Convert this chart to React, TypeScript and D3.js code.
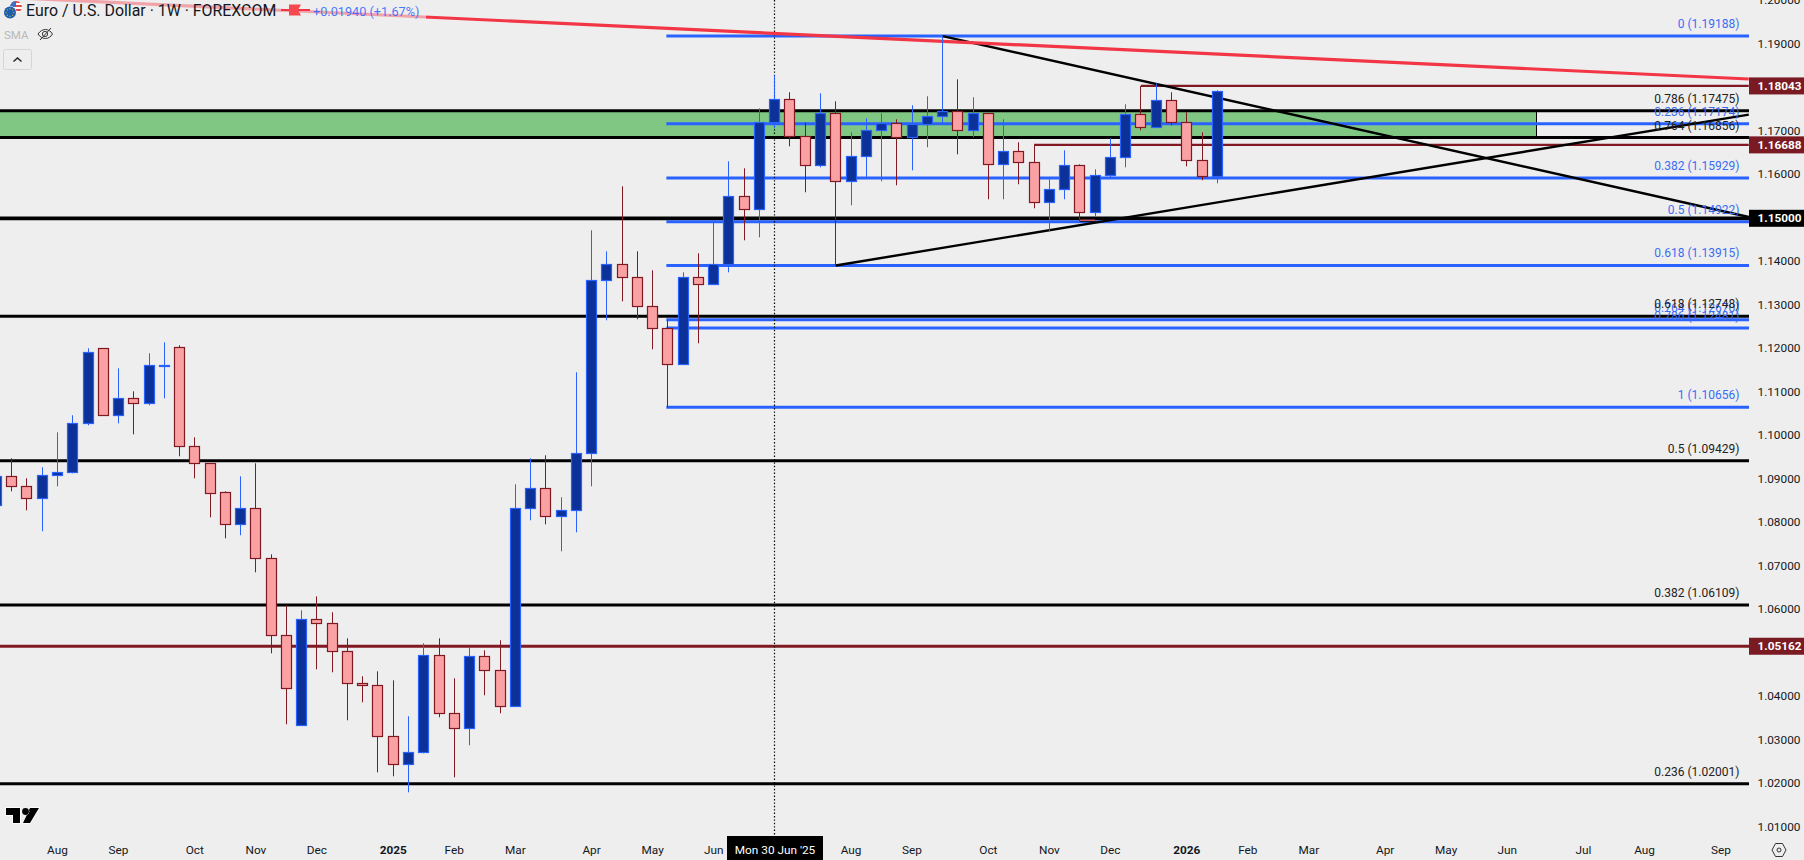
import React from "react";
import * as d3 from "d3";

const WIDTH = 1804;
const HEIGHT = 860;
const PLOT_RIGHT = 1749;

// Weekly candles, first entry is the week of 8 Jul 2024 (index -1)
const opens = [1.08402,1.09069,1.08839,1.08563,1.09092,1.09161,1.10287,1.12012,1.10471,1.10862,1.10747,1.11612,1.12034,1.09759,1.09368,1.08701,1.07965,1.08333,1.07184,1.05414,1.03345,1.05782,1.05690,1.05046,1.04310,1.04264,1.03092,1.02448,1.02724,1.04954,1.03621,1.03276,1.04931,1.04609,1.03782,1.08333,1.08793,1.08149,1.08287,1.09598,1.13575,1.13943,1.13644,1.12977,1.12471,1.11644,1.13644,1.13483,1.13943,1.15506,1.15207,1.17207,1.17736,1.16885,1.16218,1.17414,1.15851,1.16425,1.17023,1.17184,1.16862,1.17161,1.17345,1.17460,1.17023,1.17414,1.16241,1.16540,1.16287,1.15368,1.15667,1.16218,1.15138,1.15989,1.16402,1.17391,1.17092,1.17713,1.17207,1.16333,1.15966];
const highs = [1.09207,1.09483,1.09023,1.09276,1.10080,1.10471,1.12012,1.12012,1.11552,1.11023,1.11897,1.12149,1.12080,1.09965,1.09368,1.08724,1.09069,1.09368,1.07276,1.06103,1.05988,1.06310,1.05943,1.05345,1.04471,1.04586,1.04379,1.03552,1.05230,1.05345,1.04425,1.05138,1.05069,1.05299,1.08885,1.09483,1.09552,1.08586,1.11460,1.14724,1.14241,1.15736,1.14241,1.13805,1.12655,1.13759,1.14195,1.14954,1.16310,1.16149,1.17529,1.18287,1.17897,1.17207,1.17874,1.17690,1.16977,1.17299,1.17414,1.17276,1.17598,1.17805,1.19188,1.18195,1.17782,1.17414,1.17276,1.16747,1.16688,1.15897,1.16563,1.16241,1.16126,1.16839,1.17621,1.18043,1.18103,1.17897,1.17437,1.16977,1.17943];
const lows = [1.08287,1.08724,1.08287,1.07805,1.08839,1.09138,1.10241,1.10471,1.10287,1.10034,1.10701,1.10862,1.09529,1.09023,1.08126,1.07644,1.07713,1.06862,1.05000,1.03368,1.03345,1.04632,1.04563,1.03460,1.03874,1.02264,1.02172,1.01805,1.02701,1.03529,1.02149,1.02885,1.04035,1.03621,1.03782,1.08058,1.07965,1.07345,1.07782,1.08839,1.12655,1.13092,1.12678,1.11989,1.10655,1.11644,1.12126,1.13483,1.13759,1.14494,1.14563,1.17069,1.16655,1.15598,1.16172,1.13915,1.15299,1.15920,1.15851,1.15759,1.16103,1.16632,1.17184,1.16471,1.16862,1.15437,1.15437,1.15782,1.15230,1.14701,1.15437,1.14931,1.15046,1.15943,1.16172,1.17023,1.17092,1.17138,1.16195,1.15874,1.15805];
const closes = [1.09069,1.08839,1.08563,1.09092,1.09161,1.10287,1.11920,1.10471,1.10862,1.10747,1.11621,1.11621,1.09759,1.09368,1.08678,1.07965,1.08333,1.07184,1.05414,1.04195,1.05782,1.05690,1.05046,1.04310,1.04264,1.03092,1.02448,1.02724,1.04954,1.03621,1.03276,1.04931,1.04609,1.03782,1.08333,1.08793,1.08149,1.08287,1.09598,1.13575,1.13943,1.13644,1.12977,1.12471,1.11644,1.13644,1.13483,1.13943,1.15506,1.15207,1.17207,1.17736,1.16885,1.16218,1.17414,1.15851,1.16425,1.17023,1.17184,1.16862,1.17161,1.17345,1.17460,1.17023,1.17414,1.16241,1.16540,1.16287,1.15368,1.15667,1.16218,1.15138,1.15989,1.16402,1.17391,1.17092,1.17713,1.17207,1.16333,1.15966,1.17920];

const priceTicks = [1.20,1.19,1.17,1.16,1.14,1.13,1.12,1.11,1.10,1.09,1.08,1.07,1.06,1.04,1.03,1.02,1.01];

const timeTickLabels = ["Aug","Sep","Oct","Nov","Dec","2025","Feb","Mar","Apr","May","Jun","Aug","Sep","Oct","Nov","Dec","2026","Feb","Mar","Apr","May","Jun","Jul","Aug","Sep"];
const timeTickWeeks = [3,7,12,16,20,25,29,33,38,42,46,55,59,64,68,72,77,81,85,90,94,98,103,107,112];

const blackLevels = [1.17475,1.16856,1.12748,1.09429,1.06109,1.02001];
const thickLevel = 1.15;
const darkRedLevel = 1.05162;
const blueFibPrices = [1.19188,1.17174,1.15929,1.14922,1.13915,1.12670,1.12481,1.10656];
const blueFibLabels = ["0 (1.19188)","0.236 (1.17174)","0.382 (1.15929)","0.5 (1.14922)","0.618 (1.13915)","0.764 (1.12670)","0.786 (1.12481)","1 (1.10656)"];
const blackFibPrices = [1.17475,1.16856,1.12748,1.09429,1.06109,1.02001];
const blackFibLabels = ["0.786 (1.17475)","0.764 (1.16856)","0.618 (1.12748)","0.5 (1.09429)","0.382 (1.06109)","0.236 (1.02001)"];
const priceBoxes = [1.18043,1.16688,1.15,1.05162];
const boxColors = ["#7a1a23","#7a1a23","#000000","#7a1a23"];
const boxLabels = ["1.18043","1.16688","1.15000","1.05162"];

const RIGHT_WEEK = 113.83;
const redTrend: [number, number][] = [[-0.77,1.20085],[RIGHT_WEEK,1.18202]];
const fallingTrend: [number, number][] = [[61,1.19188],[RIGHT_WEEK,1.1503]];
const risingTrend: [number, number][] = [[54,1.13915],[RIGHT_WEEK,1.17384]];
const resistanceUpper: [number, number][] = [[74,1.18043],[RIGHT_WEEK,1.18043]];
const resistanceLower: [number, number][] = [[67,1.16688],[RIGHT_WEEK,1.16688]];
const minorLevel: [number, number][] = [[70,1.14955],[71,1.14955]];
const zone = { weekEnd: 99.95, top: 1.17475, bottom: 1.16856 };
const fibStartWeek = 42.9;
const crosshairWeek = 50;

const x = d3.scaleLinear().domain([0, 79]).range([11.72, 1217.26]);
const y = d3.scaleLinear().domain([1.15, 1.02]).range([218.3, 783.8]);
const snap = (v: number) => Math.floor(v) + 0.5;

const BLUE = "#2962ff";
const BLUE_FILL = "#0c3299";
const RED = "#801922";
const RED_FILL = "#faa1a4";
const BG = "#eeeeee";
const FONT = "Roboto, 'Liberation Sans', sans-serif";

const segment = d3.line<[number, number]>().x((d) => x(d[0])).y((d) => y(d[1]));

const candles = opens.map((o, i) => ({
  week: i - 1,
  open: o,
  high: highs[i],
  low: lows[i],
  close: closes[i],
}));

function Logo() {
  return (
    <g transform="translate(6,807)">
      <path d="M0 1H14V16H7V8H0Z M24 1H33L24 16H17Z" fill="#000" stroke="#fff" strokeWidth="1.6" paintOrder="stroke" />
      <circle cx="19.5" cy="4.5" r="3.4" fill="#000" stroke="#fff" strokeWidth="1" paintOrder="stroke" />
    </g>
  );
}

function Flags() {
  return (
    <g>
      <clipPath id="usClip"><circle cx="16" cy="7" r="6" /></clipPath>
      <g clipPath="url(#usClip)">
        <rect x="10" y="1" width="12" height="12" fill="#fff" />
        <rect x="10" y="1" width="12" height="2" fill="#e5484d" />
        <rect x="10" y="5" width="12" height="2" fill="#e5484d" />
        <rect x="10" y="9" width="12" height="2" fill="#e5484d" />
        <rect x="10" y="1" width="6" height="6" fill="#3f6fc4" />
      </g>
      <circle cx="10" cy="12.5" r="6.6" fill="#eeeeee" />
      <circle cx="10" cy="12.5" r="6" fill="#1c5fae" />
      {d3.range(8).map((k) => (
        <circle
          key={k}
          cx={10 + 3.8 * Math.cos((k * Math.PI) / 4)}
          cy={12.5 + 3.8 * Math.sin((k * Math.PI) / 4)}
          r={0.6}
          fill="#f4c430"
        />
      ))}
    </g>
  );
}

export default function App() {
  return (
    <>
      <style>{"html,body{margin:0;padding:0;background:#eeeeee;overflow:hidden}"}</style>
      <svg width={WIDTH} height={HEIGHT} style={{ display: "block", position: "fixed", left: 0, top: 0, background: BG, fontFamily: FONT }}>
        {/* zone */}
        <rect x={0} y={y(zone.top)} width={x(zone.weekEnd)} height={y(zone.bottom) - y(zone.top)} fill="#81c784" />
        <line x1={snap(x(zone.weekEnd))} x2={snap(x(zone.weekEnd))} y1={y(zone.top)} y2={y(zone.bottom)} stroke="#000" />

        {/* horizontal levels */}
        {blackLevels.map((p) => (
          <line key={p} x1={0} x2={PLOT_RIGHT} y1={y(p)} y2={y(p)} stroke="#000" strokeWidth={3} />
        ))}
        <line x1={0} x2={PLOT_RIGHT} y1={y(thickLevel)} y2={y(thickLevel)} stroke="#000" strokeWidth={3.8} />
        <line x1={0} x2={PLOT_RIGHT} y1={y(darkRedLevel)} y2={y(darkRedLevel)} stroke={RED} strokeWidth={3} />
        {blueFibPrices.map((p) => (
          <line key={p} x1={x(fibStartWeek)} x2={PLOT_RIGHT} y1={y(p)} y2={y(p)} stroke={BLUE} strokeWidth={3} />
        ))}
        {[resistanceUpper, resistanceLower].map((d, k) => (
          <path key={k} d={segment(d) ?? ""} stroke={RED} strokeWidth={2.2} fill="none" />
        ))}
        <path d={segment(minorLevel) ?? ""} stroke="#000" strokeWidth={3} fill="none" />
        <path d={segment(minorLevel) ?? ""} stroke="#e0606a" strokeWidth={1.4} fill="none" />

        {/* crosshair */}
        <line x1={snap(x(crosshairWeek))} x2={snap(x(crosshairWeek))} y1={0} y2={836} stroke="#000" strokeWidth={1.2} strokeDasharray="1.4 2" />

        {/* trend lines */}
        <path d={segment(fallingTrend) ?? ""} stroke="#000" strokeWidth={2.4} fill="none" />
        <path d={segment(risingTrend) ?? ""} stroke="#000" strokeWidth={2.4} fill="none" />
        <path d={segment(redTrend) ?? ""} stroke="#f23645" strokeWidth={3.2} fill="none" />

        {/* candles */}
        {candles.map((c) => {
          const cx = snap(x(c.week));
          const up = c.close >= c.open;
          const top = snap(y(Math.max(c.open, c.close)));
          const bottom = snap(y(Math.min(c.open, c.close)));
          return (
            <g key={c.week}>
              <line x1={cx} x2={cx} y1={y(c.high)} y2={y(c.low)} stroke={up ? BLUE : RED} strokeWidth={1} />
              <rect x={cx - 5} y={top} width={10} height={Math.max(bottom - top, 1)} fill={up ? BLUE_FILL : RED_FILL} stroke={up ? BLUE : RED} strokeWidth={1.2} />
            </g>
          );
        })}

        {/* fib labels */}
        <g fontSize={12} textAnchor="end">
          {blueFibPrices.map((p, i) => (
            <text key={p} x={1739.4} y={y(p) - 12} dominantBaseline="central" fill="#3a6df5">{blueFibLabels[i]}</text>
          ))}
          {blackFibPrices.map((p, i) => (
            <text key={p} x={1739.4} y={y(p) - 12} dominantBaseline="central" fill="#222">{blackFibLabels[i]}</text>
          ))}
        </g>

        {/* legend */}
        <rect x={26} y={0} width={400} height={21} fill={BG} fillOpacity={0.6} />
        <path d="M281 10H310" stroke="#f23645" strokeWidth={2} />
        <path d="M289 4.5H301L298 10L301 15.5H289Z" fill="#f5484f" />
        <Flags />
        <text x={26} y={15.5} fontSize={15.9} fill="#131722">Euro / U.S. Dollar · 1W · FOREXCOM</text>
        <text x={313} y={15.5} fontSize={12.7} fill={BLUE} fillOpacity={0.85}>+0.01940 (+1.67%)</text>
        <text x={4} y={39} fontSize={11.5} fill="#b9b9b9">SMA</text>
        <g fill="none" stroke="#333" strokeWidth={1}>
          <path d="M38 34C42 28 49 28 52.5 34C49 40 42 40 38 34Z" />
          <circle cx={45} cy={34} r={2.6} />
          <path d="M40 40L51 28" />
        </g>
        <rect x={3.5} y={49.5} width={28} height={20} rx={2} fill={BG} stroke="#d6d6d6" />
        <path d="M13.5 61.5L17.5 58L21.5 61.5" fill="none" stroke="#222" strokeWidth={1.4} />

        <Logo />

        {/* right axis */}
        <rect x={PLOT_RIGHT} y={0} width={WIDTH - PLOT_RIGHT} height={HEIGHT} fill={BG} />
        <g fontSize={11.8} fill="#131722" textAnchor="start">
          {priceTicks.map((p) => (
            <text key={p} x={1757.5} y={y(p) - 0.5} dominantBaseline="central">{d3.format(".5f")(p)}</text>
          ))}
        </g>
        {priceBoxes.map((p, i) => (
          <g key={p}>
            <rect x={PLOT_RIGHT} y={y(p) - 8.5} width={WIDTH - PLOT_RIGHT} height={17} fill={boxColors[i]} />
            <text x={1757.5} y={y(p)} fontSize={11.8} fontWeight={700} fill="#fff" dominantBaseline="central">{boxLabels[i]}</text>
          </g>
        ))}
        <g transform="translate(1779,850)" fill="none" stroke="#333" strokeWidth={1}>
          <path d="M-3.5 -6.5H3.5L7 0L3.5 6.5H-3.5L-7 0Z" />
          <circle r={2} />
        </g>

        {/* time axis */}
        <g fontSize={11.8} fill="#131722" textAnchor="middle">
          {timeTickWeeks.map((w, i) => (
            <text key={w} x={x(w)} y={850} dominantBaseline="central" fontWeight={/^\d+$/.test(timeTickLabels[i]) ? 700 : 400}>{timeTickLabels[i]}</text>
          ))}
        </g>
        <rect x={727} y={836} width={96} height={24} fill="#000" />
        <text x={775} y={850} fontSize={11.8} fill="#fff" textAnchor="middle" dominantBaseline="central">Mon 30 Jun '25</text>
      </svg>
    </>
  );
}
